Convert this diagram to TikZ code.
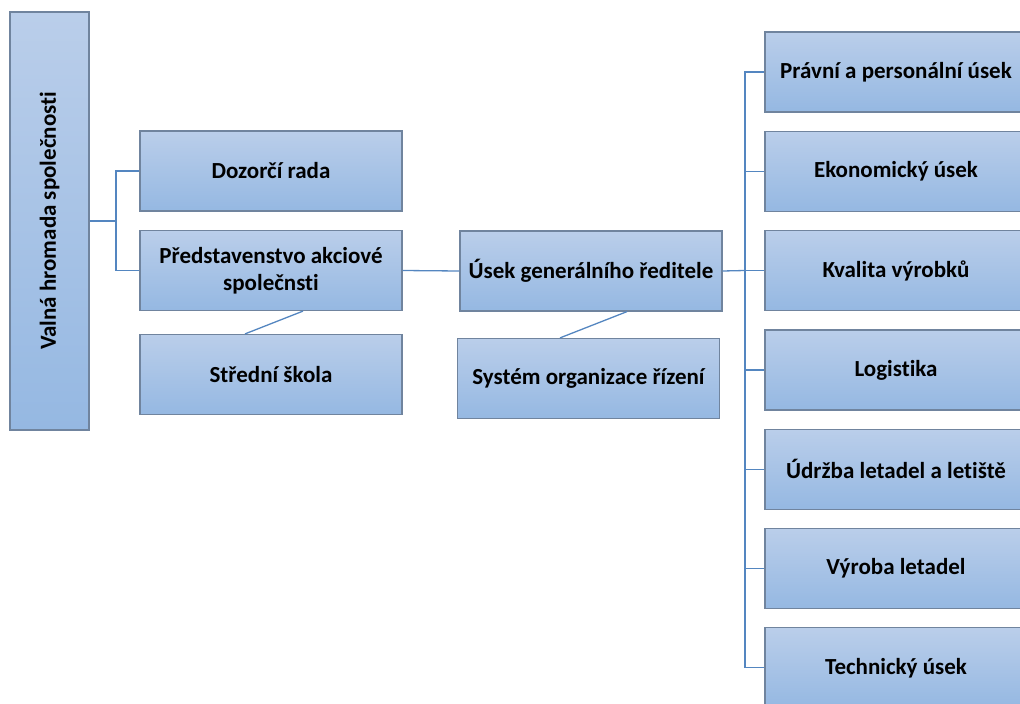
\documentclass[tikz,border=0pt]{standalone}
\usepackage{fontspec}
\setmainfont{Carlito}[Ligatures=NoCommon]
\usepackage{tikz}
\usetikzlibrary{calc}

\definecolor{boxtop}{RGB}{186,206,234}
\definecolor{boxbot}{RGB}{149,184,226}
\definecolor{boxline}{RGB}{112,132,158}
\definecolor{linkline}{RGB}{84,134,192}

\begin{document}
\begin{tikzpicture}[x=1pt,y=-1pt,
    unit/.style={draw=boxline,line width=1.2pt,top color=boxtop,bottom color=boxbot,
        minimum width=262pt,minimum height=80pt,inner sep=2pt,align=center,
        font=\fontsize{23}{27}\selectfont\bfseries},
    link/.style={draw=linkline,line width=1.3pt}]
\useasboundingbox (0,0) rectangle (1020,704);
\clip (0,0) rectangle (1020,704);

% left column
\node[unit,rotate=90,minimum width=418pt,minimum height=79pt] (valna) at (49.5,221) {Valná hromada společnosti};
\node[unit] (dozorci) at (271,171) {Dozorčí rada};
\node[unit] (predst) at (271,270.5) {Představenstvo akciové\\společnsti};
\node[unit] (stredni) at (271,374.5) {Střední škola};

% middle
\node[unit] (usek) at (591,271) {Úsek generálního ředitele};
\node[unit] (system) at (588.5,378.5) {Systém organizace řízení};

% right column
\node[unit] (pravni) at (896,72) {Právní a personální úsek};
\node[unit] (ekon) at (896,171.3) {Ekonomický úsek};
\node[unit] (kvalita) at (896,270.6) {Kvalita výrobků};
\node[unit] (logist) at (896,369.9) {Logistika};
\node[unit] (udrzba) at (896,469.2) {Údržba letadel a letiště};
\node[unit] (vyroba) at (896,568.5) {Výroba letadel};
\node[unit] (tech) at (896,667.8) {Technický úsek};

\coordinate (lbus) at (116,221);
\coordinate (rbus) at (745,270.5);

\draw[link] (valna.south) -- (lbus);
\draw[link] (dozorci.west) -| (lbus) |- (predst.west);
\draw[link] (predst.east) -- (usek.west);
\draw[link] ([xshift=32pt]predst.south) -- ([xshift=-26pt]stredni.north);
\draw[link] ([xshift=36pt]usek.south) -- ([xshift=-28.5pt]system.north);
\draw[link] (usek.east) -- (rbus);
\foreach \n in {pravni,ekon,kvalita,logist,udrzba,vyroba,tech}
    \draw[link] (rbus) |- (\n.west);
\end{tikzpicture}
\end{document}
